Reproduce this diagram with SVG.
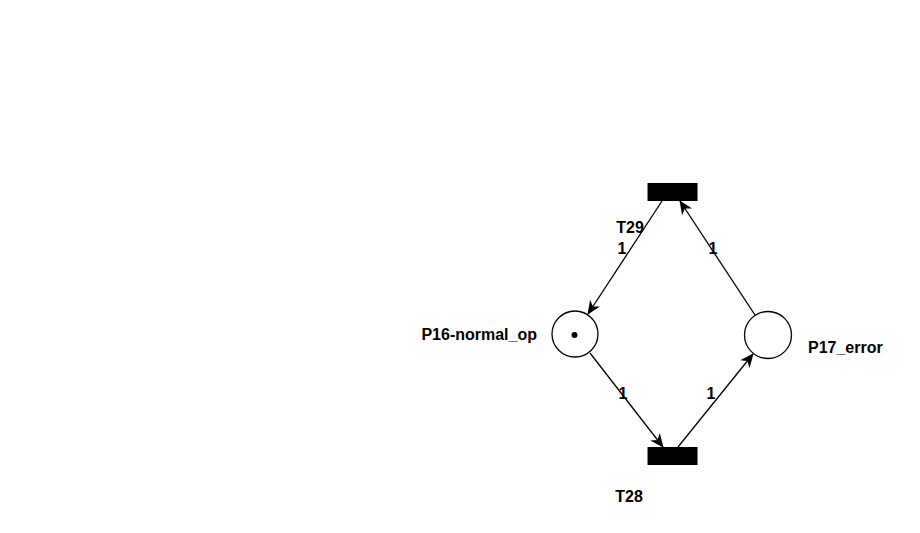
<svg xmlns="http://www.w3.org/2000/svg" width="920" height="533" viewBox="0 0 920 533">
  <style>
    .lbl { font-family: "Liberation Sans", Arial, sans-serif; font-size: 16px; font-weight: bold; fill: #000; }
    .place { fill: #fff; stroke: #000; stroke-width: 1.3; }
    .trans { fill: #000; stroke: #000; stroke-width: 1; }
    .arc { fill: none; stroke: #000; stroke-width: 1.3; marker-end: url(#arrow); }
  </style>
  <defs>
    <marker id="arrow" viewBox="0 0 14 12" markerWidth="14" markerHeight="12" refX="13" refY="6" orient="auto" markerUnits="userSpaceOnUse">
      <path d="M0,0 L14,6 L0,12 L4,6 Z" fill="#000"/>
    </marker>
  </defs>
  <rect width="920" height="533" fill="#fff"/>

  <g id="connectors">
    <line class="arc" x1="662" y1="201" x2="588" y2="314"/>
    <line class="arc" x1="755" y1="315" x2="680" y2="201"/>
    <line class="arc" x1="590" y1="353" x2="663" y2="447"/>
    <line class="arc" x1="678" y1="447" x2="753" y2="354"/>
    <text class="lbl" x="622" y="254" text-anchor="middle">1</text>
    <text class="lbl" x="713" y="254" text-anchor="middle">1</text>
    <text class="lbl" x="623" y="399" text-anchor="middle">1</text>
    <text class="lbl" x="711" y="399" text-anchor="middle">1</text>
  </g>

  <g id="T29">
    <rect class="trans" x="648" y="183.5" width="49" height="17"/>
    <text class="lbl" x="630" y="233" text-anchor="middle">T29</text>
  </g>

  <g id="T28">
    <rect class="trans" x="648" y="447.5" width="49" height="17"/>
    <text class="lbl" x="629" y="502" text-anchor="middle">T28</text>
  </g>

  <g id="P16">
    <circle class="place" cx="575" cy="334" r="23"/>
    <circle cx="574.5" cy="335" r="3" fill="#000"/>
    <text class="lbl" x="537" y="340" text-anchor="end">P16-normal_op</text>
  </g>

  <g id="P17">
    <circle class="place" cx="768" cy="335" r="23.5"/>
    <text class="lbl" x="808" y="353">P17_error</text>
  </g>
</svg>
